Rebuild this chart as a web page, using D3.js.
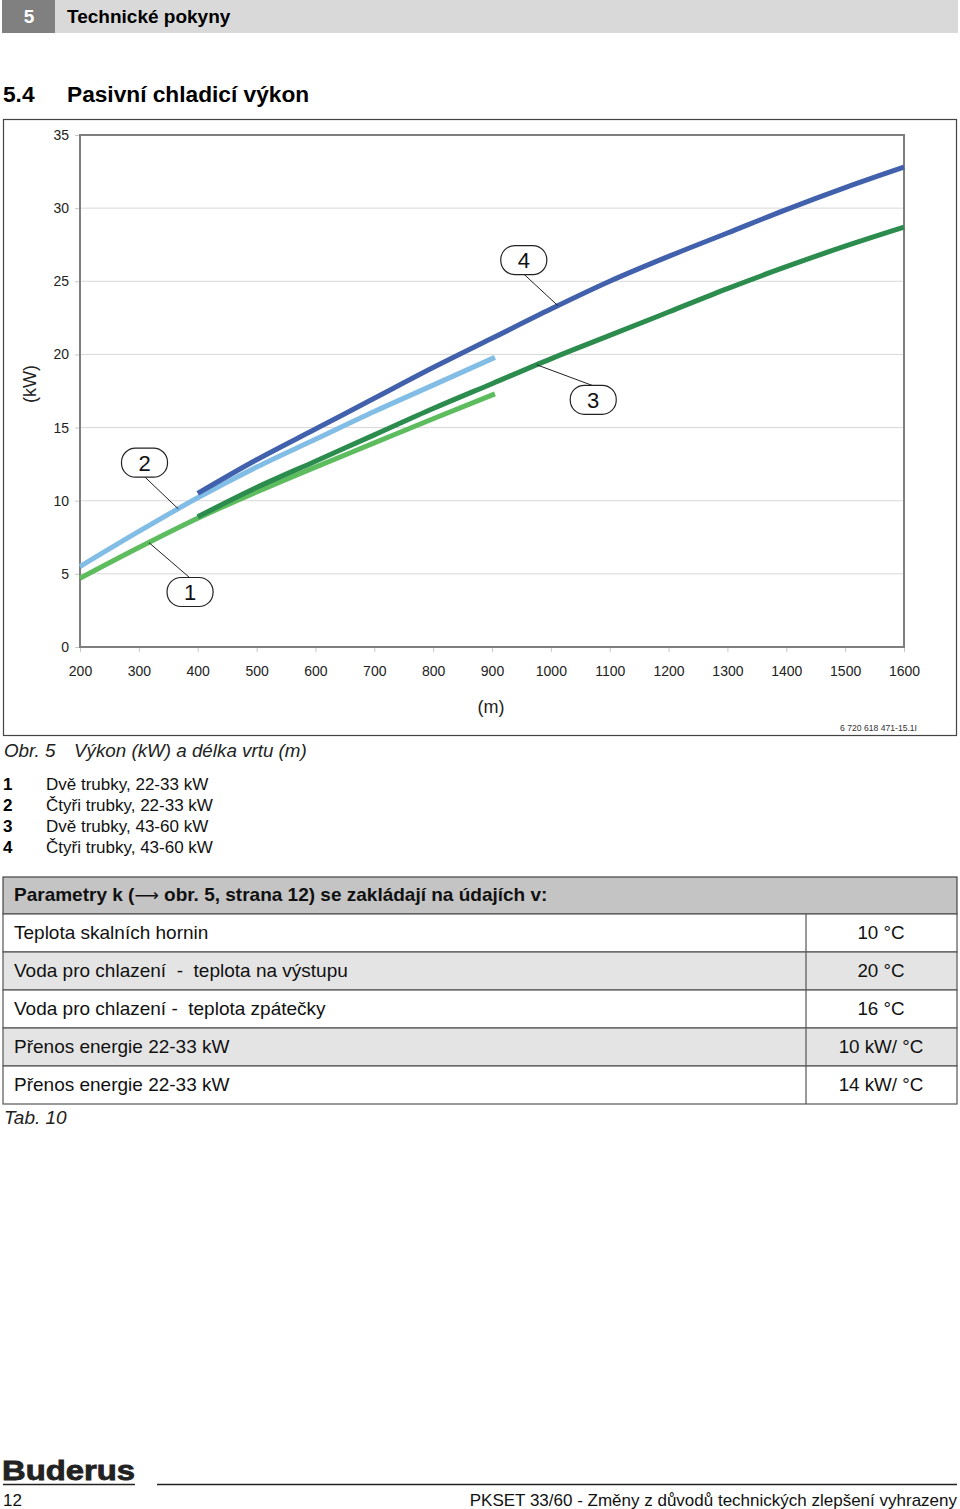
<!DOCTYPE html>
<html><head><meta charset="utf-8">
<script src="https://cdn.jsdelivr.net/npm/d3@7"></script>
<style>
html,body{margin:0;padding:0;background:#fff;}
svg{display:block;font-family:"Liberation Sans",Arial,Helvetica,sans-serif;}
text{white-space:pre;}
</style></head>
<body>
<svg id="page" width="960" height="1509"></svg>
<script>
// ---- data ----
const depthShort = [200, 300, 400, 500, 600, 700, 800, 905];
const depthLong = [400, 500, 600, 700, 800, 900, 1000, 1100, 1200, 1300, 1400, 1500, 1600];
const curve1 = [4.7, 6.8, 8.8, 10.6, 12.3, 13.95, 15.6, 17.3];     // Dvě trubky, 22-33 kW
const curve2 = [5.5, 7.9, 10.2, 12.3, 14.2, 16.1, 17.9, 19.8];     // Čtyři trubky, 22-33 kW
const curve3 = [8.9, 10.9, 12.7, 14.5, 16.3, 18.0, 19.7, 21.3, 22.9, 24.5, 26.0, 27.4, 28.7]; // Dvě trubky, 43-60 kW
const curve4 = [10.5, 12.8, 14.9, 17.0, 19.1, 21.1, 23.1, 25.0, 26.7, 28.3, 29.9, 31.4, 32.8]; // Čtyři trubky, 43-60 kW
const xTicks = [200, 300, 400, 500, 600, 700, 800, 900, 1000, 1100, 1200, 1300, 1400, 1500, 1600];
const yTicks = [0, 5, 10, 15, 20, 25, 30, 35];
const legendNums = ["1", "2", "3", "4"];
const legendTexts = ["Dvě trubky, 22-33 kW", "Čtyři trubky, 22-33 kW", "Dvě trubky, 43-60 kW", "Čtyři trubky, 43-60 kW"];
// callouts: label position (m, kW) and attach point on curve (m)
const calloutLabels = ["1", "2", "3", "4"];
const calloutPos = [[387, 3.76], [309.6, 12.6], [1072, 16.9], [954, 26.45]];
const calloutAttach = [317, 367, 976, 1012];
const tableHeaderA = "Parametry k (";
const tableHeaderB = " obr. 5, strana 12) se zakládají na údajích v:";
const tableLabels = ["Teplota skalních hornin", "Voda pro chlazení  -  teplota na výstupu", "Voda pro chlazení -  teplota zpátečky", "Přenos energie 22-33 kW", "Přenos energie 22-33 kW"];
const tableValues = ["10 °C", "20 °C", "16 °C", "10 kW/ °C", "14 kW/ °C"];

const svg = d3.select("#page");
const colors = ["#5dbd5e", "#82bde6", "#2b8c4e", "#4261ad"];

// ---- page header ----
svg.append("rect").attr("x", 2).attr("y", 0).attr("width", 956).attr("height", 33).attr("fill", "#d9d9d9");
svg.append("rect").attr("x", 2).attr("y", 0).attr("width", 53).attr("height", 33).attr("fill", "#808080");
svg.append("text").attr("x", 29).attr("y", 23).attr("text-anchor", "middle").attr("fill", "#fff")
  .attr("font-size", 19).attr("font-weight", "bold").text("5");
svg.append("text").attr("x", 67).attr("y", 23).attr("font-size", 19).attr("font-weight", "bold").text("Technické pokyny");
svg.append("text").attr("x", 3).attr("y", 102).attr("font-size", 22.7).attr("font-weight", "bold").text("5.4");
svg.append("text").attr("x", 67).attr("y", 102).attr("font-size", 22.7).attr("font-weight", "bold").text("Pasivní chladicí výkon");

// ---- chart frame ----
svg.append("rect").attr("x", 3.5).attr("y", 119.5).attr("width", 953).attr("height", 616)
  .attr("fill", "none").attr("stroke", "#444").attr("stroke-width", 1.2);

const x = d3.scaleLinear().domain([200, 1600]).range([80, 904]);
const y = d3.scaleLinear().domain([0, 35]).range([647, 135]);

const g = svg.append("g");
// gridlines
g.selectAll("line.grid").data(yTicks.filter(d => d > 0 && d < 35)).join("line")
  .attr("x1", x(200)).attr("x2", x(1600)).attr("y1", d => y(d)).attr("y2", d => y(d))
  .attr("stroke", "#d8d8d8").attr("stroke-width", 1);

// axes
const xAxis = d3.axisBottom(x).tickValues(xTicks).tickSize(5).tickPadding(12).tickFormat(d3.format("d"));
const yAxis = d3.axisLeft(y).tickValues(yTicks).tickSize(5).tickPadding(6);
const gx = g.append("g").attr("transform", `translate(0,${y(0)})`).call(xAxis);
const gy = g.append("g").attr("transform", `translate(${x(200)},0)`).call(yAxis);
[gx, gy].forEach(a => {
  a.select(".domain").remove();
  a.selectAll(".tick line").attr("stroke", "#c8c8c8");
  a.selectAll(".tick text").attr("font-size", 14).attr("fill", "#222").attr("font-family", "Liberation Sans, Arial, sans-serif");
});
gx.selectAll(".tick text").attr("dy", "0.85em");
// plot border
g.append("rect").attr("x", x(200)).attr("y", y(35)).attr("width", x(1600) - x(200)).attr("height", y(0) - y(35))
  .attr("fill", "none").attr("stroke", "#7f7f7f").attr("stroke-width", 2);

// axis titles
svg.append("text").attr("x", 491).attr("y", 713).attr("text-anchor", "middle").attr("font-size", 18).attr("fill", "#222").text("(m)");
svg.append("text").attr("transform", "translate(36,384) rotate(-90)").attr("text-anchor", "middle")
  .attr("font-size", 18).attr("fill", "#222").text("(kW)");

// curves
const line = d3.line().x(d => x(d[0])).y(d => y(d[1])).curve(d3.curveMonotoneX);
const series = [
  depthShort.map((d, i) => [d, curve1[i]]),
  depthShort.map((d, i) => [d, curve2[i]]),
  depthLong.map((d, i) => [d, curve3[i]]),
  depthLong.map((d, i) => [d, curve4[i]])
];
const drawOrder = [1, 0, 3, 2];
drawOrder.forEach(i => {
  g.append("path").datum(series[i]).attr("d", line).attr("fill", "none")
    .attr("stroke", colors[i]).attr("stroke-width", 5);
});

// callouts
function valueAt(s, m) {
  const xs = s.map(d => d[0]), ys = s.map(d => d[1]);
  const k = Math.max(1, d3.bisectLeft(xs, m));
  const t = (m - xs[k - 1]) / (xs[k] - xs[k - 1]);
  return ys[k - 1] + t * (ys[k] - ys[k - 1]);
}
calloutLabels.forEach((lab, i) => {
  const cx = x(calloutPos[i][0]), cy = y(calloutPos[i][1]);
  const ax = x(calloutAttach[i]), ay = y(valueAt(series[i], calloutAttach[i]));
  const dy = ay > cy ? 14 : -14;
  g.append("line").attr("x1", cx).attr("y1", cy + dy).attr("x2", ax).attr("y2", ay)
    .attr("stroke", "#222").attr("stroke-width", 1);
  g.append("rect").attr("x", cx - 23).attr("y", cy - 14.5).attr("width", 46).attr("height", 29)
    .attr("rx", 14).attr("ry", 14).attr("fill", "#fff").attr("stroke", "#222").attr("stroke-width", 1.2);
  g.append("text").attr("x", cx).attr("y", cy + 8).attr("text-anchor", "middle")
    .attr("font-size", 22).attr("fill", "#111").text(lab);
});

// figure id
svg.append("text").attr("x", 917).attr("y", 731).attr("text-anchor", "end").attr("font-size", 8.6).attr("fill", "#333")
  .text("6 720 618 471-15.1I");

// caption
svg.append("text").attr("x", 4).attr("y", 757).attr("font-size", 18.8).attr("font-style", "italic").attr("fill", "#222").text("Obr. 5");
svg.append("text").attr("x", 74).attr("y", 757).attr("font-size", 18.8).attr("font-style", "italic").attr("fill", "#222").text("Výkon (kW) a délka vrtu (m)");

// legend
legendNums.forEach((n, i) => {
  svg.append("text").attr("x", 3).attr("y", 790 + i * 21).attr("font-size", 17).attr("font-weight", "bold").text(n);
  svg.append("text").attr("x", 46).attr("y", 790 + i * 21).attr("font-size", 17).attr("fill", "#111").text(legendTexts[i]);
});

// table
const tX = 3, tW = 954, colX = 806, rowH = 38, tY = 877;
svg.append("rect").attr("x", tX).attr("y", tY).attr("width", tW).attr("height", 37).attr("fill", "#c4c4c4")
  .attr("stroke", "#444").attr("stroke-width", 1.2);
const ht = svg.append("text").attr("x", 14).attr("y", 901).attr("font-size", 19).attr("font-weight", "bold").attr("fill", "#111");
ht.append("tspan").text(tableHeaderA);
ht.append("tspan").attr("font-weight", "normal").attr("font-family", "DejaVu Sans, sans-serif").attr("font-size", 17).text("\u27F6");
ht.append("tspan").text(tableHeaderB);
tableLabels.forEach((lab, i) => {
  const ry = tY + 37 + i * rowH;
  svg.append("rect").attr("x", tX).attr("y", ry).attr("width", tW).attr("height", rowH)
    .attr("fill", i % 2 === 1 ? "#e4e4e4" : "#fff").attr("stroke", "#555").attr("stroke-width", 1.2);
  svg.append("line").attr("x1", colX).attr("x2", colX).attr("y1", ry).attr("y2", ry + rowH).attr("stroke", "#555").attr("stroke-width", 1.2);
  svg.append("text").attr("x", 14).attr("y", ry + 25).attr("font-size", 19).attr("fill", "#111").text(lab);
  svg.append("text").attr("x", 881).attr("y", ry + 25).attr("text-anchor", "middle").attr("font-size", 18.8).attr("fill", "#111").text(tableValues[i]);
});
svg.append("text").attr("x", 4).attr("y", 1124).attr("font-size", 19).attr("font-style", "italic").attr("fill", "#222").text("Tab. 10");

// footer
svg.append("text").attr("x", 2).attr("y", 1480).attr("font-size", 27).attr("font-weight", "900")
  .attr("font-family", "Arial Black, Liberation Sans, Arial, sans-serif").attr("fill", "#222").attr("stroke", "#222").attr("stroke-width", 0.8)
  .attr("textLength", 133).attr("lengthAdjust", "spacingAndGlyphs").text("Buderus");
svg.append("line").attr("x1", 3).attr("x2", 135).attr("y1", 1484.5).attr("y2", 1484.5).attr("stroke", "#222").attr("stroke-width", 1.5);
svg.append("line").attr("x1", 157).attr("x2", 957).attr("y1", 1484.5).attr("y2", 1484.5).attr("stroke", "#222").attr("stroke-width", 1.5);
svg.append("text").attr("x", 3).attr("y", 1506).attr("font-size", 17).attr("fill", "#111").text("12");
svg.append("text").attr("x", 957).attr("y", 1506).attr("text-anchor", "end").attr("font-size", 17).attr("fill", "#111")
  .text("PKSET 33/60 - Změny z důvodů technických zlepšení vyhrazeny");
</script>
</body></html>
